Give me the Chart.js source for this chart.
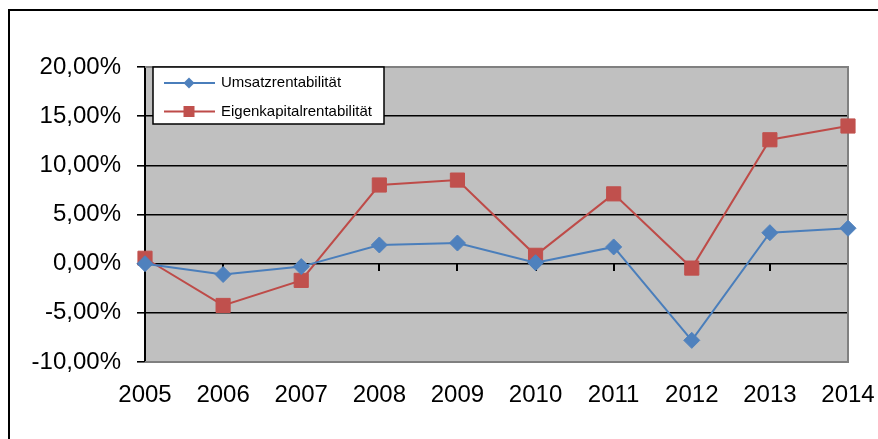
<!DOCTYPE html>
<html>
<head>
<meta charset="utf-8">
<script src="https://cdn.jsdelivr.net/npm/chart.js@4/dist/chart.umd.min.js"></script>
<style>
  html, body { margin: 0; padding: 0; background: #fff; }
  #chart { display: block; }
</style>
</head>
<body>
<canvas id="chart" width="878" height="439"></canvas>
<script>
// Werte in Prozent
const years = ["2005", "2006", "2007", "2008", "2009", "2010", "2011", "2012", "2013", "2014"];
const umsatzrentabilitaet = [0.0, -1.1, -0.3, 1.9, 2.1, 0.1, 1.7, -7.8, 3.15, 3.6];
const eigenkapitalrentabilitaet = [0.55, -4.25, -1.7, 8.0, 8.5, 0.85, 7.1, -0.45, 12.6, 14.0];
const yMin = -10;
const yMax = 20;
const yStep = 5;

const FONT = "'Liberation Sans', Arial, sans-serif";

// grauer Hintergrund + Rahmen der Zeichenfläche, Außenrahmen
const plotAreaPlugin = {
  id: "plotArea",
  beforeDraw(chart) {
    const { ctx, chartArea: a } = chart;
    ctx.save();
    ctx.strokeStyle = "#000";
    ctx.lineWidth = 2;
    ctx.strokeRect(9, 10, 2000, 2000);
    ctx.fillStyle = "#C0C0C0";
    ctx.fillRect(a.left, a.top, a.right - a.left, a.bottom - a.top);
    ctx.restore();
  },
  beforeDatasetsDraw(chart) {
    const { ctx, chartArea: a } = chart;
    ctx.save();
    ctx.strokeStyle = "#808080";
    ctx.lineWidth = 2;
    ctx.beginPath();
    ctx.moveTo(a.left, a.top);
    ctx.lineTo(a.right, a.top);
    ctx.lineTo(a.right, a.bottom);
    ctx.lineTo(a.left, a.bottom);
    ctx.stroke();
    ctx.restore();
  }
};

// Legende innerhalb der Zeichenfläche oben links
const boxLegendPlugin = {
  id: "boxLegend",
  afterDraw(chart) {
    const { ctx } = chart;
    const x = 153, y = 67, w = 231, h = 57;
    ctx.save();
    ctx.fillStyle = "#fff";
    ctx.fillRect(x, y, w, h);
    ctx.strokeStyle = "#000";
    ctx.lineWidth = 1.5;
    ctx.strokeRect(x, y, w, h);
    chart.data.datasets.forEach((ds, i) => {
      const rowY = 83 + i * 28.5;
      ctx.strokeStyle = ds.borderColor;
      ctx.lineWidth = 2;
      ctx.beginPath();
      ctx.moveTo(164, rowY);
      ctx.lineTo(215, rowY);
      ctx.stroke();
      ctx.fillStyle = ds.pointBackgroundColor;
      if (ds.pointStyle === "rect") {
        ctx.fillRect(189 - 5.5, rowY - 5.5, 11, 11);
      } else {
        ctx.beginPath();
        ctx.moveTo(189 - 5.5, rowY);
        ctx.lineTo(189, rowY - 5.5);
        ctx.lineTo(189 + 5.5, rowY);
        ctx.lineTo(189, rowY + 5.5);
        ctx.closePath();
        ctx.fill();
      }
      ctx.fillStyle = "#000";
      ctx.font = "15px " + FONT;
      ctx.textBaseline = "middle";
      ctx.textAlign = "left";
      ctx.fillText(ds.label, 221, rowY);
    });
    ctx.restore();
  }
};

const ctx = document.getElementById("chart");
new Chart(ctx, {
  type: "line",
  data: {
    labels: years,
    datasets: [
      {
        label: "Umsatzrentabilität",
        data: umsatzrentabilitaet,
        borderColor: "#4A7EBB",
        backgroundColor: "#4F81BD",
        pointBackgroundColor: "#4F81BD",
        pointBorderColor: "#4F81BD",
        pointStyle: "rectRot",
        pointRadius: 8,
        pointHoverRadius: 8,
        pointBorderWidth: 1,
        borderWidth: 2,
        tension: 0,
        fill: false,
        clip: false
      },
      {
        label: "Eigenkapitalrentabilität",
        data: eigenkapitalrentabilitaet,
        borderColor: "#BE4B48",
        backgroundColor: "#C0504D",
        pointBackgroundColor: "#C0504D",
        pointBorderColor: "#C0504D",
        pointStyle: "rect",
        pointRadius: 10,
        pointHoverRadius: 10,
        pointBorderWidth: 1,
        borderWidth: 2,
        tension: 0,
        fill: false,
        clip: false
      }
    ]
  },
  options: {
    responsive: false,
    animation: false,
    events: [],
    layout: { padding: { top: 67, right: 30, bottom: 0, left: 0 } },
    plugins: {
      legend: { display: false },
      tooltip: { enabled: false }
    },
    scales: {
      x: {
        type: "category",
        offset: false,
        grid: { display: false, drawTicks: false },
        border: { display: false },
        ticks: {
          color: "#000",
          font: { family: FONT, size: 24 },
          padding: 19,
          maxRotation: 0,
          autoSkip: false
        },
        afterFit(scale) {
          scale.height = 77;
          scale.paddingLeft = 0;
          scale.paddingRight = 0;
        }
      },
      // nur für die Teilstriche an der 0-Linie
      x2: {
        type: "category",
        axis: "x",
        labels: years,
        offset: false,
        position: { y: 0 },
        grid: {
          drawOnChartArea: false,
          drawTicks: true,
          tickLength: 7,
          color: "#000",
          lineWidth: 2
        },
        border: { display: false },
        ticks: { display: false },
        afterFit(scale) {
          scale.paddingLeft = 0;
          scale.paddingRight = 0;
        }
      },
      y: {
        min: yMin,
        max: yMax,
        ticks: {
          stepSize: yStep,
          color: "#000",
          font: { family: FONT, size: 24 },
          padding: 16,
          callback: (v) => v.toFixed(2).replace(".", ",") + "%"
        },
        grid: {
          color: (c) => (c.tick && (c.tick.value === yMax || c.tick.value === yMin)) ? "#808080" : "#000",
          tickColor: "#000",
          lineWidth: 1.6,
          tickLength: 8
        },
        border: { display: true, color: "#000", width: 2 },
        afterFit(scale) { scale.width = 145; }
      }
    }
  },
  plugins: [plotAreaPlugin, boxLegendPlugin]
});
</script>
</body>
</html>
